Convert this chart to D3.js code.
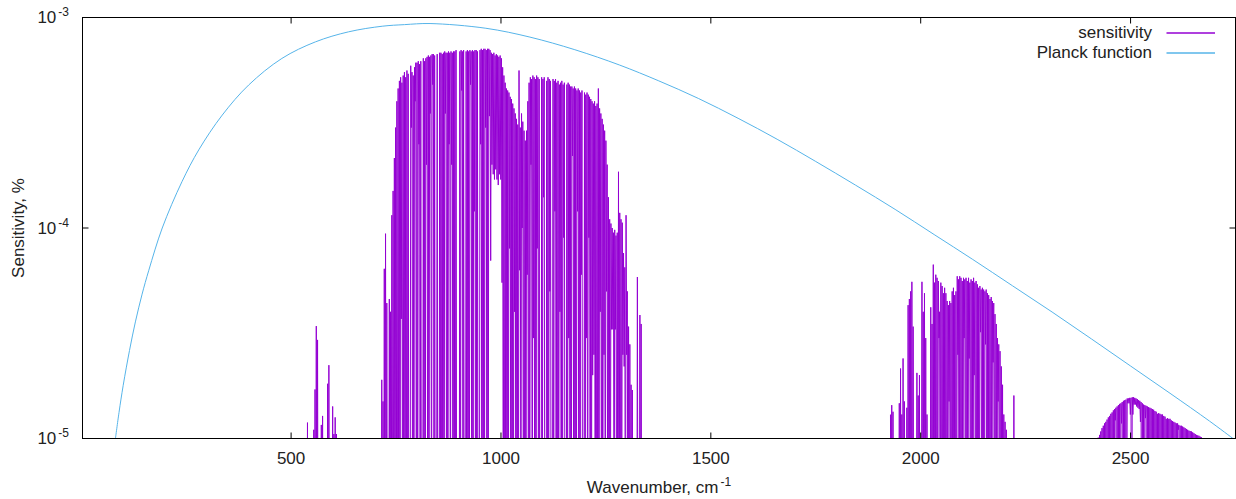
<!DOCTYPE html>
<html>
<head>
<meta charset="utf-8">
<script src="https://d3js.org/d3.v7.min.js"></script>
<style>
	body { margin: 0; background: #fff; }
	svg { display: block; }
</style>
</head>
<body>
<svg id="chart" width="1236" height="499"></svg>
<script>
// all sensitivity / Planck values are in units of 1e-5
var unit = 1e-5;
var xDomain = [3, 2750];
var yDomain = [1e-5, 1e-3];
var xTicks = [500, 1000, 1500, 2000, 2500];
var yTicks = [1e-5, 1e-4, 1e-3];
var yTickExp = ['-5', '-4', '-3'];
var seriesNames = ['sensitivity', 'Planck function'];

// sensitivity, max and min inside each 3 cm-1 bin (0 = below the axis)
var binStep = 3;

var bandA_start = 536;
var bandA_max = [0, 1.19, 0, 0, 0, 0, 1.1, 1.71, 3.42, 2.94,
	0, 0, 1.16, 1.28, 0, 0, 0, 1.82, 2.23, 0,
	0, 1.42, 1.05, 1.26, 1.05, 0];
var bandA_min = [0, 0, 0, 0, 0, 0, 0, 0, 0, 0,
	0, 0, 0, 0, 0, 0, 0, 0, 0, 0,
	0, 0, 0, 0, 0, 0];

var bandB_start = 710;
var bandB_max = [0, 0, 1.9, 1.5, 6.4, 9.4, 4.4, 0, 4.6, 4.0,
	11.5, 15, 21.5, 30, 40, 46, 50, 52, 49, 53,
	55, 52, 56, 54, 0, 59, 55, 53, 58, 61,
	61, 62, 60, 62, 0, 64, 62, 64, 65, 66,
	65, 66, 67, 67, 66, 0, 67, 0, 68, 68,
	67, 68, 69, 68, 68, 69, 68, 69, 68, 69,
	69, 70, 0, 0, 69, 70, 69, 70, 0, 69,
	70, 69, 70, 69, 70, 69, 70, 70, 69, 0,
	70, 71, 70, 71, 71, 70, 71, 71, 70, 68,
	67, 68, 66, 67, 66, 65, 66, 64, 58, 53,
	49, 46, 45, 44, 42, 41, 39, 37, 35, 33,
	31, 56, 30, 35, 32, 29, 26, 29, 40, 49,
	52, 51, 53, 52, 51, 53, 52, 51, 0, 52,
	51, 52, 0, 50, 52, 51, 50, 0, 51, 50,
	51, 49, 50, 48, 49, 50, 48, 49, 0, 48,
	49, 48, 47, 47, 46, 47, 46, 45, 46, 45,
	44, 45, 0, 44, 43, 44, 43, 42, 41, 40,
	39, 40, 38, 39, 46, 37, 35, 33, 31, 29,
	26, 20, 14, 11, 10.5, 10, 9.5, 9.8, 9.2, 9.5,
	18.5, 11.8, 11, 10.6, 7.6, 6.5, 11.5, 5, 3.4, 2.8,
	1.8, 1.7, 0, 0, 0, 5.85, 0, 3.86, 3.5, 0, 0];
var bandB_min = [0, 0, 0, 0, 0, 0, 0, 0, 0, 0,
	0, 0, 0, 0, 0, 0, 0, 3.7, 0, 0,
	0, 0, 0, 0, 0, 30, 0, 0, 40, 0,
	0, 25, 0, 0, 0, 0, 0, 20, 0, 0,
	35, 0, 48, 0, 0, 0, 0, 0, 0, 0,
	0, 0, 35, 0, 0, 25, 0, 20, 0, 0,
	0, 0, 0, 0, 0, 45, 0, 0, 0, 0,
	0, 0, 48, 0, 0, 12, 0, 0, 0, 0,
	25, 0, 0, 0, 30, 0, 0, 34, 7, 20,
	18, 17, 19, 17, 16, 18, 17, 5.5, 0, 0,
	0, 0, 0, 8, 0, 0, 0, 4, 0, 0,
	0, 6.3, 0, 10, 0, 0, 0, 6, 0, 0,
	20, 0, 3, 0, 0, 8, 0, 0, 0, 0,
	14, 0, 0, 0, 0, 5, 0, 0, 0, 12,
	0, 0, 0, 4, 0, 0, 9, 0, 0, 0,
	3, 0, 0, 22, 0, 0, 0, 12, 0, 0,
	6, 0, 0, 0, 3, 0, 9, 0, 0, 2,
	2.5, 0, 0, 0, 0, 4, 0, 0, 2.5, 0,
	5, 0, 0, 0, 3.3, 3.3, 0, 3.3, 0, 0,
	0, 0, 0, 2.5, 2.2, 0, 2.5, 0, 0, 0,
	0, 0, 0, 0, 0, 0, 0, 0, 0, 0, 0];

var bandC_start = 1928;
var bandC_max = [1.3, 1.44, 1.34, 0, 0, 0, 0, 1.47, 2.15, 1.3,
	2.4, 1.5, 0, 1.4, 4.3, 4.6, 5.0, 5.55, 3.4, 0,
	0, 2.05, 1.6, 2.0, 0, 5.55, 4.0, 4.9, 3.0, 1.3,
	0, 0, 4.2, 3.5, 6.7, 5.5, 6.0, 5.8, 5.6, 4.0,
	5.5, 5.3, 4.9, 5.2, 4.9, 4.5, 4.3, 4.5, 4.4, 5.0,
	5.2, 4.8, 5.0, 5.9, 5.7, 5.9, 5.8, 5.6, 5.8, 5.7,
	5.8, 5.6, 5.8, 5.5, 5.7, 5.6, 5.8, 5.5, 5.6, 5.4,
	5.2, 5.3, 5.1, 5.2, 5.1, 5.0, 5.1, 4.9, 4.8, 4.6,
	4.7, 4.5, 4.4, 3.9, 3.5, 3.0, 2.8, 2.6, 2.2, 1.8,
	1.3, 1.2, 1.1, 0, 0, 0, 0, 0, 1.6, 0];
var bandC_min = [0, 0, 0, 0, 0, 0, 0, 0, 0, 0,
	0, 0, 0, 0, 0, 0, 0, 0, 0, 0,
	0, 0, 0, 0, 0, 0, 0, 0, 0, 0,
	0, 0, 0, 0, 0, 0, 0, 0, 3.0, 0,
	0, 0, 0, 0, 0, 0, 1.5, 0, 0, 0,
	0, 0, 0, 2.5, 0, 0, 0, 0, 3.0, 0,
	0, 0, 2.4, 0, 0, 0, 2.0, 0, 0, 0,
	0, 3.2, 0, 0, 0, 2.8, 0, 0, 0, 0,
	0, 2.3, 0, 0, 0, 1.5, 0, 0, 0, 0,
	0, 0, 0, 0, 0, 0, 0, 0, 0, 0];

var bandD_start = 2420;
var bandD_max = [0, 1.01, 1.04, 1.08, 1.12, 1.15, 1.18, 1.2, 1.23, 1.26,
	1.28, 1.31, 1.33, 1.36, 1.38, 1.40, 1.42, 1.44, 1.46, 1.47,
	1.49, 1.51, 1.52, 1.53, 1.55, 1.55, 1.56, 1.56, 1.57, 1.57,
	1.56, 1.55, 1.54, 1.52, 1.51, 1.49, 1.47, 1.45, 1.44, 1.43,
	1.42, 1.41, 1.40, 1.39, 1.38, 1.37, 1.35, 1.34, 1.31, 1.32,
	1.31, 1.30, 1.30, 1.28, 1.27, 1.24, 1.25, 1.24, 1.24, 1.22,
	1.21, 1.20, 1.19, 1.18, 1.18, 1.16, 1.15, 1.15, 1.14, 1.13,
	1.12, 1.11, 1.10, 1.09, 1.085, 1.08, 1.07, 1.06, 1.05, 1.04,
	1.035, 1.03, 1.02, 1.013, 1.005, 0, 0];
var bandD_min = [0, 0, 0, 0, 0, 0, 0, 0, 0, 0,
	0, 0, 0, 0, 1.22, 0, 0, 0, 0, 1.18,
	0, 0, 0, 0, 1.47, 1.47, 1.3, 0, 1.3, 1.45,
	1.45, 1.42, 1.4, 1.38, 1.2, 0, 0, 0, 1.25, 0,
	0, 0, 0, 0, 0, 0, 0, 0, 0, 0,
	0, 0, 0, 0, 0, 0, 0, 0, 0, 0,
	0, 0, 0, 0, 1.1, 0, 0, 0, 0, 0,
	0, 0, 0, 0, 0, 0, 0, 0, 0, 0,
	0, 0, 0, 0, 0, 0, 0];

// Planck function
var planck_wn = [81.5, 90, 100, 115, 129, 145, 161, 193, 240, 280,
	336, 399, 478, 558, 637, 717, 770, 831, 964, 1069,
	1176, 1283, 1376, 1471, 1565, 1658, 1750, 1845, 1939, 2032,
	2124, 2219, 2313, 2407, 2500, 2594, 2688, 2744];
var planck_val = [1.0, 1.33, 1.79, 2.62, 3.58, 4.85, 6.3, 10.0, 16.6, 23.5,
	34.4, 47.8, 63.9, 76.6, 85.5, 90.9, 92.5, 93.6, 88.9, 80.7,
	70.3, 59.4, 50.0, 41.2, 33.2, 26.4, 20.7, 15.97, 12.26, 9.31,
	7.09, 5.31, 3.99, 2.97, 2.21, 1.64, 1.21, 1.0];

var bands = [
	{start: bandA_start, max: bandA_max, min: bandA_min},
	{start: bandB_start, max: bandB_max, min: bandB_min},
	{start: bandC_start, max: bandC_max, min: bandC_min},
	{start: bandD_start, max: bandD_max, min: bandD_min}
];

var colors = ['#9400d3', '#56b4e9'];
var font = '"Liberation Sans", Arial, sans-serif';

var plotLeft = 82.5, plotRight = 1235.5, plotTop = 17.5, plotBottom = 438.5;

var svg = d3.select('#chart');

var x = d3.scaleLinear().domain(xDomain).range([plotLeft, plotRight]);
var y = d3.scaleLog().domain(yDomain).range([plotBottom, plotTop]);

svg.append('defs').append('clipPath')
	.attr('id', 'plotclip')
	.append('rect')
	.attr('x', plotLeft)
	.attr('y', plotTop)
	.attr('width', plotRight - plotLeft)
	.attr('height', plotBottom - plotTop);

var plot = svg.append('g').attr('clip-path', 'url(#plotclip)');

var sensLine = d3.line()
	.x(function(d) { return x(d[0]); })
	.y(function(d) { return y(Math.max(d[1], 0.1) * unit); });

bands.forEach(function(b) {
	var pts = [];
	b.max.forEach(function(v, i) {
		var wn = b.start + binStep * i;
		pts.push([wn, v]);
		pts.push([wn + binStep / 2, b.min[i]]);
	});
	plot.append('path')
		.datum(pts)
		.attr('d', sensLine)
		.attr('fill', 'none')
		.attr('stroke', colors[0])
		.attr('stroke-width', 1);
});

var planckLine = d3.line()
	.curve(d3.curveCatmullRom.alpha(0.5))
	.x(function(d) { return x(d[0]); })
	.y(function(d) { return y(d[1] * unit); });

plot.append('path')
	.datum(planck_wn.map(function(w, i) { return [w, planck_val[i]]; }))
	.attr('d', planckLine)
	.attr('fill', 'none')
	.attr('stroke', colors[1])
	.attr('stroke-width', 1);

// axes: ticks point inwards and are mirrored
function styleAxis(g) {
	g.select('.domain').remove();
	g.attr('color', '#000')
		.attr('font-size', 17)
		.attr('font-family', font);
	g.selectAll('text').attr('fill', '#222');
}

svg.append('g')
	.attr('transform', 'translate(0,' + plotBottom + ')')
	.call(d3.axisBottom(x).tickValues(xTicks).tickSize(-6).tickPadding(13)
		.tickFormat(d3.format('d')).offset(0))
	.call(styleAxis);

svg.append('g')
	.attr('transform', 'translate(0,' + plotTop + ')')
	.call(d3.axisTop(x).tickValues(xTicks).tickSize(-6).tickFormat('').offset(0))
	.call(styleAxis);

svg.append('g')
	.attr('transform', 'translate(' + plotLeft + ',0)')
	.call(d3.axisLeft(y).tickValues(yTicks).tickSize(-6).tickFormat('').offset(0))
	.call(styleAxis);

svg.append('g')
	.attr('transform', 'translate(' + plotRight + ',0)')
	.call(d3.axisRight(y).tickValues(yTicks).tickSize(-6).tickFormat('').offset(0))
	.call(styleAxis);

svg.append('rect')
	.attr('x', plotLeft)
	.attr('y', plotTop)
	.attr('width', plotRight - plotLeft)
	.attr('height', plotBottom - plotTop)
	.attr('fill', 'none')
	.attr('stroke', '#000')
	.attr('stroke-width', 1);

// y tick labels 10^-n
yTicks.forEach(function(t, i) {
	var lbl = svg.append('text')
		.attr('x', 69)
		.attr('y', y(t) + 5.5)
		.attr('text-anchor', 'end')
		.attr('font-family', font)
		.attr('font-size', 17)
		.attr('fill', '#222');
	lbl.append('tspan').text('10');
	lbl.append('tspan')
		.attr('dx', 2)
		.attr('dy', -7)
		.attr('font-size', 12)
		.text(yTickExp[i]);
});

// axis titles
var xt = svg.append('text')
	.attr('x', (plotLeft + plotRight) / 2)
	.attr('y', 493)
	.attr('text-anchor', 'middle')
	.attr('font-family', font)
	.attr('font-size', 17)
	.attr('fill', '#222');
xt.append('tspan').text('Wavenumber, cm');
xt.append('tspan').attr('dx', 2).attr('dy', -7).attr('font-size', 12).text('-1');

svg.append('text')
	.attr('transform', 'translate(24,' + ((plotTop + plotBottom) / 2) + ') rotate(-90)')
	.attr('text-anchor', 'middle')
	.attr('font-family', font)
	.attr('font-size', 17)
	.attr('fill', '#222')
	.text('Sensitivity, %');

// legend
seriesNames.forEach(function(name, i) {
	var ly = 33 + i * 20;
	svg.append('text')
		.attr('x', 1152)
		.attr('y', ly + 5)
		.attr('text-anchor', 'end')
		.attr('font-family', font)
		.attr('font-size', 17)
		.attr('fill', '#222')
		.text(name);
	svg.append('line')
		.attr('x1', 1166.5)
		.attr('x2', 1215)
		.attr('y1', ly)
		.attr('y2', ly)
		.attr('stroke', colors[i])
		.attr('stroke-width', 1.3);
});
</script>
</body>
</html>
